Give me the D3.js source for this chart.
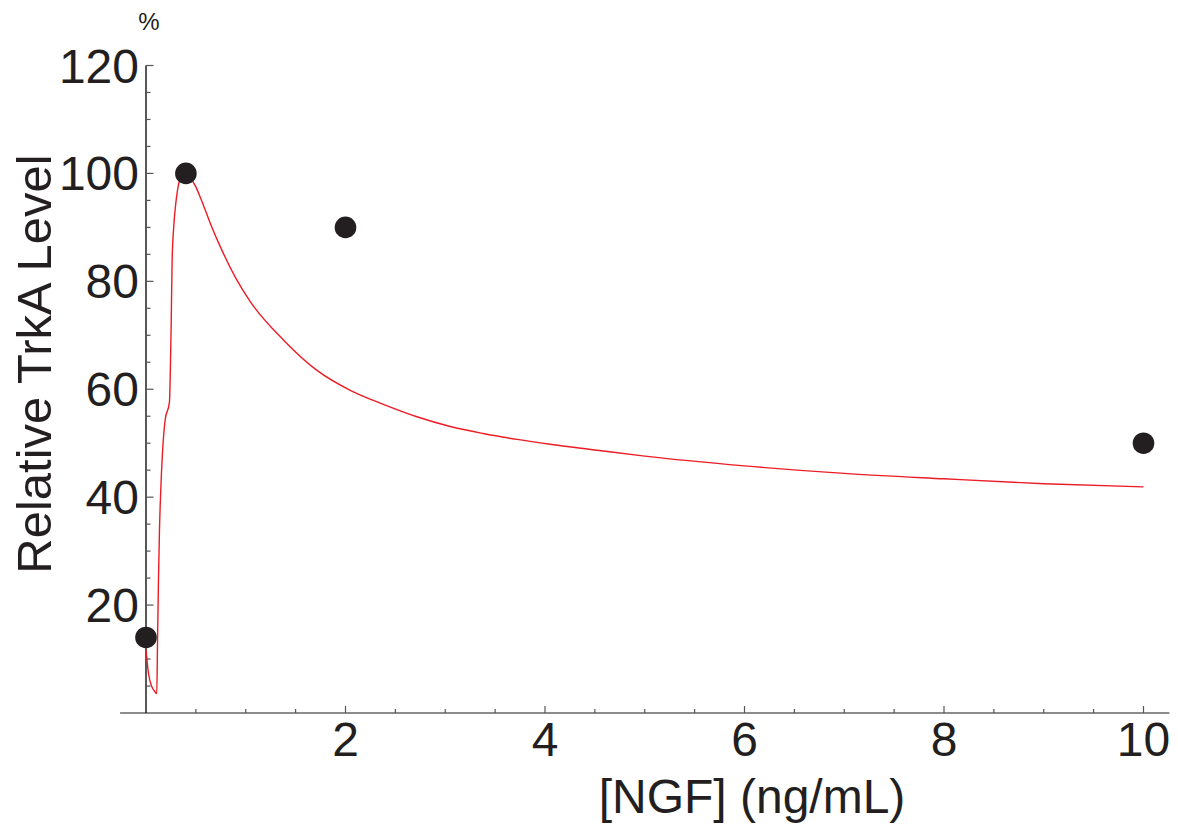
<!DOCTYPE html>
<html>
<head>
<meta charset="utf-8">
<script src="https://cdn.jsdelivr.net/npm/d3@7"></script>
<style>
  html, body { margin: 0; padding: 0; background: #ffffff; }
  svg { display: block; font-family: "Liberation Sans", Arial, Helvetica, sans-serif; }
</style>
</head>
<body>
<svg id="chart" width="1178" height="825"></svg>
<script>
// Measured TrkA levels at each NGF concentration
const ngfConc = [0, 0.4, 2, 10];
const trkaLevel = [14, 100, 90, 50];

// Model curve of relative TrkA level vs NGF concentration
const curveX = [0, 0.025, 0.058, 0.092, 0.108, 0.115, 0.125, 0.135, 0.148, 0.165, 0.192, 0.235,
  0.242, 0.252, 0.262, 0.278, 0.302, 0.328, 0.36, 0.396, 0.44, 0.5, 0.55, 0.65, 0.75, 0.9,
  1.047, 1.38, 1.714, 2.048, 2.38, 2.716, 3.05, 3.38, 3.72, 4.05, 4.5, 5, 6, 7, 8, 9, 10];
const curveY = [11.7, 7.35, 4.9, 3.9, 3.6, 12.3, 24.6, 33.9, 41.3, 48.1, 54.3, 57.6,
  61.7, 71.5, 83.9, 90.1, 95.0, 98.1, 99.6, 100, 99.3, 97.5, 95.3, 90.5, 86.2, 80.6,
  76.2, 69.1, 63.5, 59.8, 57.2, 54.9, 53.1, 51.8, 50.7, 49.8, 48.75, 47.6, 45.8, 44.4, 43.4, 42.5, 41.9];

// Axis ticks
const xMajorTicks = [2, 4, 6, 8, 10];
const xMinorTicks = [0.5, 1, 1.5, 2.5, 3, 3.5, 4.5, 5, 5.5, 6.5, 7, 7.5, 8.5, 9, 9.5];
const yMajorTicks = [20, 40, 60, 80, 100, 120];
const yMinorTicks = [5, 10, 15, 25, 30, 35, 45, 50, 55, 65, 70, 75, 85, 90, 95, 105, 110, 115];

const xLabel = "[NGF] (ng/mL)";
const yLabel = "Relative TrkA Level";
const yUnit = "%";

const ink = "#231f20";
const svg = d3.select("#chart");

const x = d3.scaleLinear().domain([0, 10]).range([146, 1143.5]);
const y = d3.scaleLinear().domain([0, 120]).range([713, 65.5]);

// Horizontal axis line (extends slightly past the data range)
svg.append("line")
  .attr("x1", x(-0.26)).attr("x2", x(10.26))
  .attr("y1", y(0)).attr("y2", y(0))
  .attr("stroke", "#666").attr("stroke-width", 1.5);

// Vertical axis line
svg.append("line")
  .attr("x1", x(0)).attr("x2", x(0))
  .attr("y1", y(0)).attr("y2", y(120))
  .attr("stroke", ink).attr("stroke-width", 1.5);

// x ticks point up into the plot
svg.append("g").selectAll("line").data(xMinorTicks).join("line")
  .attr("x1", d => x(d)).attr("x2", d => x(d))
  .attr("y1", y(0)).attr("y2", y(0) - 4)
  .attr("stroke", "#555").attr("stroke-width", 1.2);
svg.append("g").selectAll("line").data(xMajorTicks).join("line")
  .attr("x1", d => x(d)).attr("x2", d => x(d))
  .attr("y1", y(0)).attr("y2", y(0) - 7)
  .attr("stroke", "#555").attr("stroke-width", 1.2);

// y ticks point right into the plot
svg.append("g").selectAll("line").data(yMinorTicks).join("line")
  .attr("x1", x(0)).attr("x2", x(0) + 4.5)
  .attr("y1", d => y(d)).attr("y2", d => y(d))
  .attr("stroke", "#555").attr("stroke-width", 1.2);
svg.append("g").selectAll("line").data(yMajorTicks).join("line")
  .attr("x1", x(0)).attr("x2", x(0) + 7.5)
  .attr("y1", d => y(d)).attr("y2", d => y(d))
  .attr("stroke", "#555").attr("stroke-width", 1.2);

// Tick labels
svg.append("g").selectAll("text").data(xMajorTicks).join("text")
  .attr("x", d => x(d)).attr("y", 756)
  .attr("text-anchor", "middle")
  .attr("font-size", 48).attr("fill", ink)
  .text(d => d);
svg.append("g").selectAll("text").data(yMajorTicks).join("text")
  .attr("x", 139).attr("y", d => y(d) + 17)
  .attr("text-anchor", "end")
  .attr("font-size", 48).attr("fill", ink)
  .text(d => d);

// Axis titles
svg.append("text")
  .attr("x", 752).attr("y", 813)
  .attr("text-anchor", "middle")
  .attr("font-size", 48).attr("fill", ink)
  .text(xLabel);
svg.append("text")
  .attr("transform", "translate(51,364) rotate(-90)")
  .attr("text-anchor", "middle")
  .attr("font-size", 49).attr("fill", ink)
  .text(yLabel);
svg.append("text")
  .attr("x", 149).attr("y", 30)
  .attr("text-anchor", "middle")
  .attr("font-size", 24).attr("fill", ink)
  .text(yUnit);

// Model curve
const line = d3.line()
  .x(d => x(d[0])).y(d => y(d[1]))
  .curve(d3.curveMonotoneX);
svg.append("path")
  .datum(d3.zip(curveX, curveY))
  .attr("d", line)
  .attr("fill", "none")
  .attr("stroke", "#ec1c24")
  .attr("stroke-width", 1.4);

// Data points
svg.append("g").selectAll("circle").data(d3.zip(ngfConc, trkaLevel)).join("circle")
  .attr("cx", d => x(d[0])).attr("cy", d => y(d[1]))
  .attr("r", 10.8)
  .attr("fill", ink);
</script>
</body>
</html>
